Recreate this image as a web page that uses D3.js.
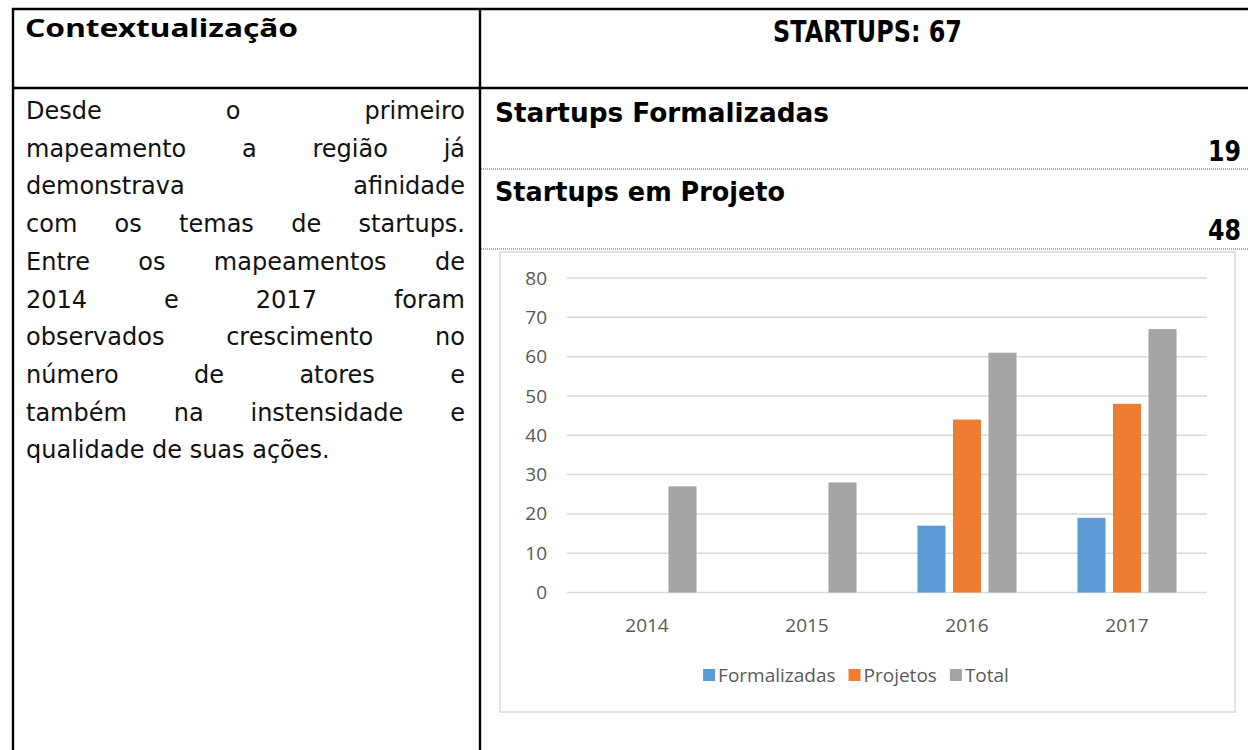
<!DOCTYPE html>
<html>
<head>
<meta charset="utf-8">
<script src="https://cdn.jsdelivr.net/npm/d3@7"></script>
<style>
  html, body { margin: 0; padding: 0; background: #fff; }
  svg { display: block; }
</style>
</head>
<body>
<svg id="page" width="1248" height="750"></svg>
<script>
// chart data
const years = ["2014", "2015", "2016", "2017"];
const seriesNames = ["Formalizadas", "Projetos", "Total"];
const formalizadas = [null, null, 17, 19];
const projetos = [null, null, 44, 48];
const total = [27, 28, 61, 67];
const yTicks = [0, 10, 20, 30, 40, 50, 60, 70, 80];
const seriesColors = ["#5B9BD5", "#ED7D31", "#A5A5A5"];

// text content of the page
const leftTitle = "Contextualização";
const rightTitle = "STARTUPS: 67";
const bodyLines = [
    "Desde o primeiro",
    "mapeamento a região já",
    "demonstrava afinidade",
    "com os temas de startups.",
    "Entre os mapeamentos de",
    "2014 e 2017 foram",
    "observados crescimento no",
    "número de atores e",
    "também na instensidade e",
    "qualidade de suas ações."
];
const summaryRows = [
    { label: "Startups Formalizadas", value: "19" },
    { label: "Startups em Projeto", value: "48" }
];

const svg = d3.select("#page");
const bodyFont = "'DejaVu Sans', sans-serif";
const titleFont = "'Noto Sans', 'Open Sans', sans-serif";
const headFont = "'DejaVu Sans', sans-serif";
const chartFont = "'Open Sans', 'Noto Sans', sans-serif";

// --- table frame ---
const frame = svg.append("g").attr("stroke", "#000").attr("stroke-width", 2.4);
frame.append("line").attr("x1", 12).attr("x2", 1248).attr("y1", 9).attr("y2", 9);
frame.append("line").attr("x1", 12).attr("x2", 1248).attr("y1", 88).attr("y2", 88);
frame.append("line").attr("x1", 13).attr("x2", 13).attr("y1", 8).attr("y2", 750);
frame.append("line").attr("x1", 480).attr("x2", 480).attr("y1", 8).attr("y2", 750);

// dotted separators in right column
[169, 249].forEach(y => {
    svg.append("line")
        .attr("x1", 481).attr("x2", 1248)
        .attr("y1", y).attr("y2", y)
        .attr("stroke", "#555")
        .attr("stroke-width", 1)
        .attr("stroke-dasharray", "1,1");
});

// --- headers ---
svg.append("text")
    .attr("x", 25).attr("y", 37)
    .attr("font-family", titleFont)
    .attr("font-weight", "bold")
    .attr("font-size", 25)
    .attr("textLength", 273)
    .attr("lengthAdjust", "spacingAndGlyphs")
    .text(leftTitle);

svg.append("text")
    .attr("x", 773).attr("y", 42)
    .attr("font-family", headFont)
    .attr("font-weight", "bold")
    .attr("font-size", 31)
    .attr("textLength", 189)
    .attr("lengthAdjust", "spacingAndGlyphs")
    .text(rightTitle);

// --- summary rows ---
const labelWidths = [334, 290];
summaryRows.forEach((row, i) => {
    const base = 122 + i * 79;
    svg.append("text")
        .attr("x", 495).attr("y", base)
        .attr("font-family", headFont)
        .attr("font-weight", "bold")
        .attr("font-size", 27)
        .attr("textLength", labelWidths[i])
        .attr("lengthAdjust", "spacingAndGlyphs")
        .text(row.label);
    svg.append("text")
        .attr("x", 1241).attr("y", base + 39)
        .attr("text-anchor", "end")
        .attr("font-family", headFont)
        .attr("font-weight", "bold")
        .attr("font-size", 29)
        .attr("textLength", 33)
        .attr("lengthAdjust", "spacingAndGlyphs")
        .text(row.value);
});

// --- justified body text ---
const bodyLeft = 26, bodyRight = 465, firstBase = 119, lineGap = 37.7;
const bodyG = svg.append("g")
    .attr("font-family", bodyFont)
    .attr("font-size", 24)
    .attr("fill", "#111");

function measure(str) {
    const t = bodyG.append("text").text(str);
    const w = t.node().getComputedTextLength();
    t.remove();
    return w;
}
const spaceW = measure("a a") - 2 * measure("a");

bodyLines.forEach((line, i) => {
    const words = line.split(" ");
    const y = firstBase + i * lineGap;
    const nodes = words.map(w => bodyG.append("text").attr("y", y).text(w));
    const widths = nodes.map(n => n.node().getComputedTextLength());
    const isLast = i === bodyLines.length - 1;
    const gap = (isLast || words.length < 2)
        ? spaceW
        : (bodyRight - bodyLeft - d3.sum(widths)) / (words.length - 1);
    let x = bodyLeft;
    nodes.forEach((n, j) => {
        n.attr("x", x);
        x += widths[j] + gap;
    });
});

// --- chart ---
const box = { x: 500, y: 252, w: 735, h: 460 };
svg.append("rect")
    .attr("x", box.x).attr("y", box.y)
    .attr("width", box.w).attr("height", box.h)
    .attr("fill", "#fff")
    .attr("stroke", "#d9d9d9")
    .attr("stroke-width", 1.5);

const plot = { left: 567, right: 1207, top: 278, bottom: 592.5 };

const x0 = d3.scaleBand()
    .domain(years)
    .range([plot.left, plot.right])
    .paddingInner(0.381)
    .paddingOuter(0.1905);

const x1 = d3.scaleBand()
    .domain(seriesNames)
    .range([0, x0.bandwidth()])
    .paddingInner(0.211);

const y = d3.scaleLinear()
    .domain([0, 80])
    .range([plot.bottom, plot.top]);

const chart = svg.append("g");

// gridlines
chart.append("g")
    .selectAll("line")
    .data(yTicks)
    .join("line")
    .attr("x1", plot.left).attr("x2", plot.right)
    .attr("y1", d => y(d)).attr("y2", d => y(d))
    .attr("stroke", "#d9d9d9")
    .attr("stroke-width", 1.5);

// y axis labels
const yAxis = chart.append("g")
    .attr("transform", `translate(${plot.left - 20},0)`)
    .call(d3.axisLeft(y).tickValues(yTicks).tickSize(0).tickPadding(0));
yAxis.select(".domain").remove();
yAxis.selectAll("text")
    .attr("font-family", chartFont)
    .attr("font-size", 19)
    .attr("fill", "#595959");

// x axis labels
const xAxis = chart.append("g")
    .attr("transform", `translate(0,${plot.bottom + 26})`)
    .call(d3.axisBottom(x0).tickSize(0).tickPadding(0));
xAxis.select(".domain").remove();
xAxis.selectAll("text")
    .attr("font-family", chartFont)
    .attr("font-size", 19)
    .attr("fill", "#595959");

// bars
const seriesData = [formalizadas, projetos, total];
const barRows = [];
years.forEach((yr, i) => {
    seriesNames.forEach((s, k) => {
        const v = seriesData[k][i];
        if (v !== null) barRows.push({ year: yr, series: s, value: v, color: seriesColors[k] });
    });
});

chart.append("g")
    .selectAll("rect")
    .data(barRows)
    .join("rect")
    .attr("x", d => x0(d.year) + x1(d.series))
    .attr("y", d => y(d.value))
    .attr("width", x1.bandwidth())
    .attr("height", d => y(0) - y(d.value))
    .attr("fill", d => d.color);

// legend
const legend = chart.append("g")
    .attr("font-family", chartFont)
    .attr("font-size", 19)
    .attr("fill", "#595959");
const items = seriesNames.map((s, k) => {
    const g = legend.append("g");
    g.append("rect").attr("width", 12).attr("height", 12).attr("y", -13).attr("fill", seriesColors[k]);
    const t = g.append("text").attr("x", 15).attr("y", 0).text(s);
    return { g, w: 15 + t.node().getComputedTextLength() };
});
const legendGap = 13;
const legendW = d3.sum(items, d => d.w) + legendGap * (items.length - 1);
let lx = 856 - legendW / 2;
items.forEach(it => {
    it.g.attr("transform", `translate(${lx},682)`);
    lx += it.w + legendGap;
});
</script>
</body>
</html>
